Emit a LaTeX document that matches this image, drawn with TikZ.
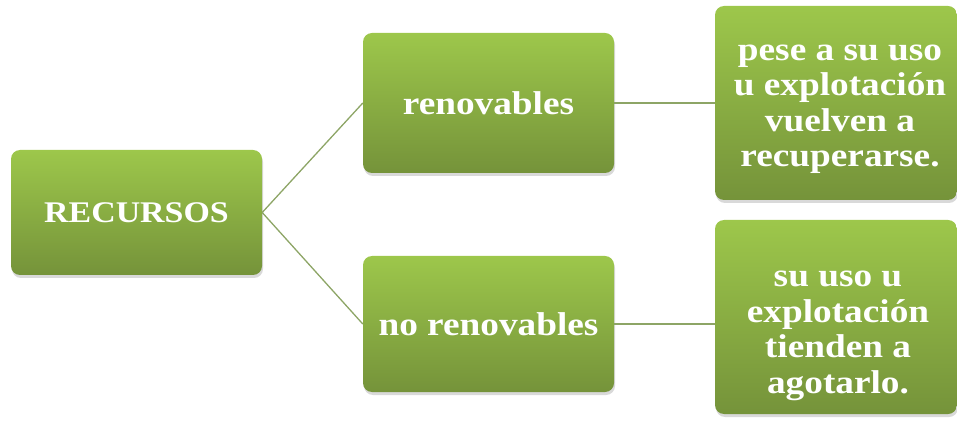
\documentclass[tikz,border=0pt]{standalone}
\usepackage{fontspec}
\setmainfont{Liberation Serif}[FakeStretch=1.13]
\usepackage{tikz}
\usetikzlibrary{positioning,shadows}

\definecolor{boxtop}{HTML}{9DC74B}
\definecolor{boxbot}{HTML}{75933A}
\definecolor{linkgreen}{HTML}{8DA566}

\begin{document}
\begin{tikzpicture}[x=1pt,y=-1pt,
    box/.style={rounded corners=9pt,top color=boxtop,bottom color=boxbot,
        text=white,align=center,inner sep=0pt,
        font=\bfseries\fontsize{33}{36}\selectfont,
        drop shadow={shadow xshift=1pt,shadow yshift=-3pt,opacity=0.3}},
    boxtext/.style={text=white,align=center,inner sep=0pt,
        font=\bfseries\fontsize{33}{35.5}\selectfont},
    link/.style={draw=linkgreen,line width=1.3pt}]
\useasboundingbox (0,0) rectangle (957,427);
% main box
\node[box,minimum width=251pt,minimum height=125pt,
    font=\bfseries\fontsize{30}{36}\selectfont] (rec) at (136.5,212.5) {RECURSOS};
% middle column
\node[box,minimum width=251pt,minimum height=140pt] (ren) at (488.5,103) {renovables};
\node[box,minimum width=251pt,minimum height=136pt] (noren) at (488.5,324) {no renovables};
% right column
\node[box,minimum width=242pt,minimum height=194pt] (renTxt) at (836,103) {};
\node[boxtext] (renLbl) at ([xshift=4pt,yshift=-6pt]renTxt.center)
    {pese a su uso\\u explotación\\vuelven a\\recuperarse.};
\node[box,minimum width=242pt,minimum height=194pt] (norenTxt) at (836,317) {};
\node[boxtext] (norenLbl) at ([xshift=2pt,yshift=-19pt]norenTxt.center)
    {su uso u\\explotación\\tienden a\\agotarlo.};
% links
\draw[link] (rec.east) -- (ren.west);
\draw[link] (rec.east) -- (noren.west);
\draw[link] (ren.east) -- (renTxt.west |- ren.east);
\draw[link] (noren.east) -- (norenTxt.west |- noren.east);
\end{tikzpicture}
\end{document}
